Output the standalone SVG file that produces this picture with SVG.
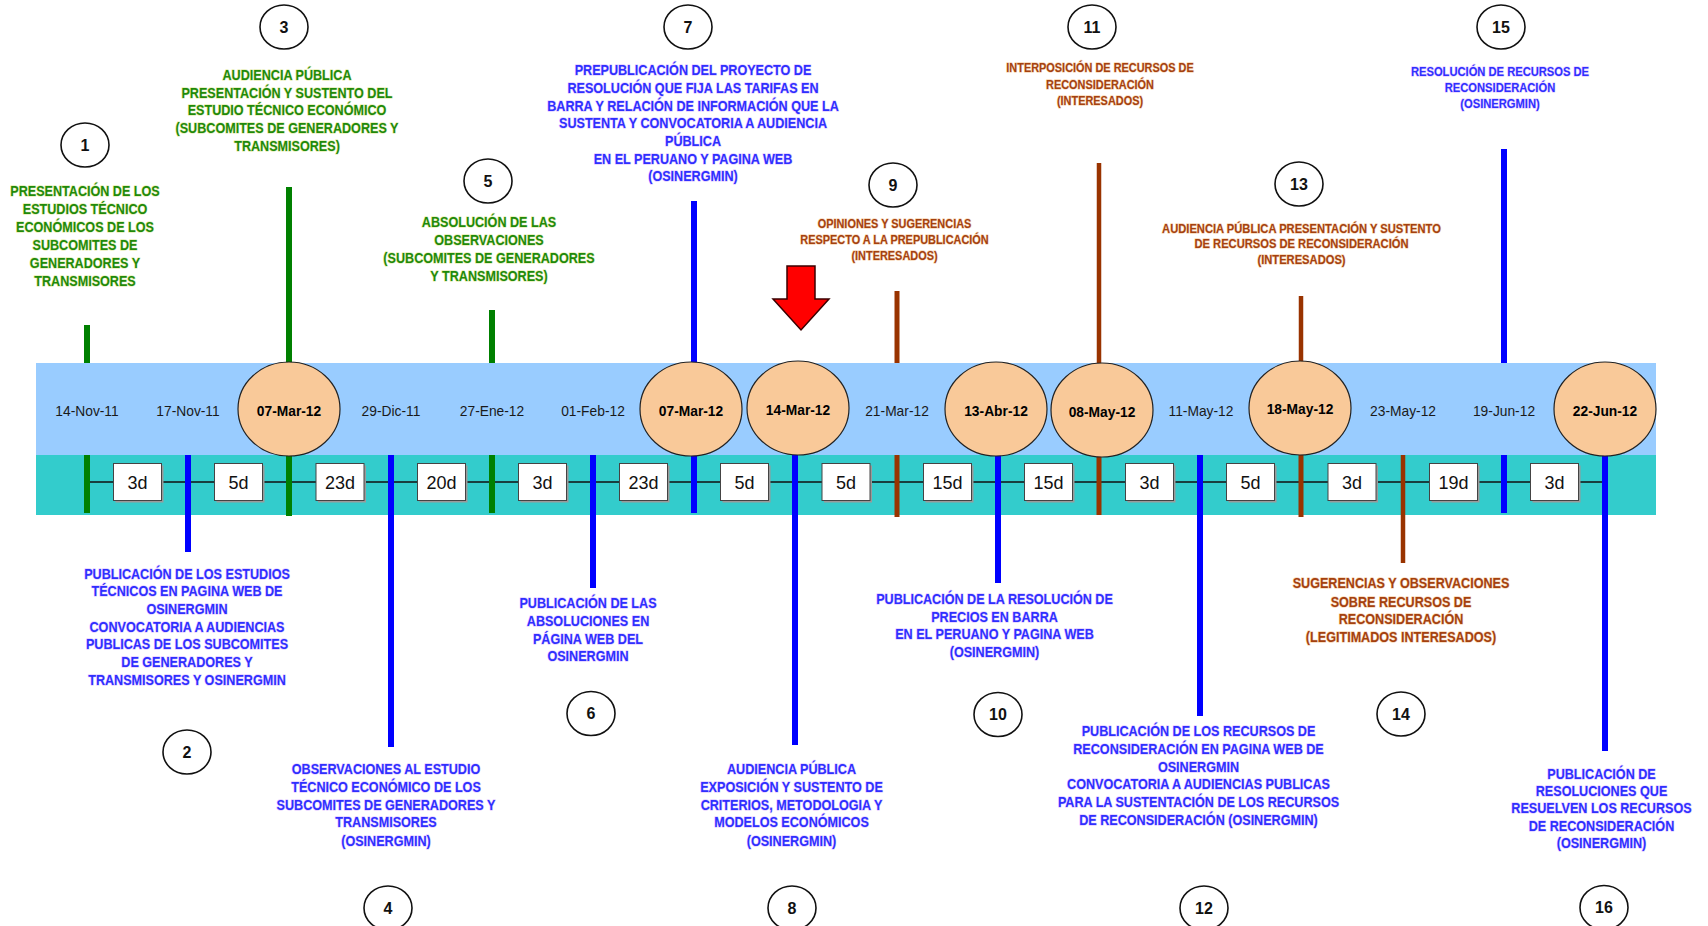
<svg xmlns="http://www.w3.org/2000/svg" width="1708" height="926" viewBox="0 0 1708 926">
<style>
.lt{font-family:"Liberation Sans",Arial,sans-serif;font-weight:bold;text-anchor:middle;font-size:15px;paint-order:stroke;stroke-width:1.4px;stroke-linejoin:round}
.sm{font-size:13px}
.g{fill:#1f8a0a;stroke:#d2e07a;stroke-opacity:.55}
.b{fill:#2f2fff;stroke:#c9a0ff;stroke-opacity:.5}
.r{fill:#a4410f;stroke:#f0b070;stroke-opacity:.5}
.num{fill:#fff;stroke:#111;stroke-width:1.6}
.numt{font-family:"Liberation Sans",Arial,sans-serif;font-weight:bold;font-size:16px;text-anchor:middle;fill:#111}
.date{font-family:"Liberation Sans",Arial,sans-serif;font-size:15px;text-anchor:middle;fill:#1a1a1a}
.dateb{font-weight:bold;fill:#000}
.ell{fill:#f9c999;stroke:#222;stroke-width:1.2}
.box{fill:#fff;stroke:#444;stroke-width:1}
.shd{fill:#9a9a9a}
.boxt{font-family:"Liberation Sans",Arial,sans-serif;font-size:18px;text-anchor:middle;fill:#111}
.lg{stroke:#008000;stroke-width:6}
.lb{stroke:#0000ff;stroke-width:6}
.lr{stroke:#993300;stroke-width:5}
.lr2{stroke:#993300;stroke-width:4.5}
</style>

<g id="band">
<rect x="36" y="363" width="1620" height="92" fill="#99ccff"/>
<rect x="36" y="455" width="1620" height="60" fill="#33cccc"/>
</g>

<g id="connectors">
<line x1="87" y1="482" x2="1605" y2="482" stroke="#111" stroke-width="1.6"/>
<!-- above band -->
<line class="lg" x1="87" y1="325" x2="87" y2="363"/>
<line class="lg" x1="289" y1="187" x2="289" y2="363"/>
<line class="lg" x1="492" y1="310" x2="492" y2="363"/>
<line class="lb" x1="694" y1="201" x2="694" y2="363"/>
<line class="lr" x1="897" y1="291" x2="897" y2="363"/>
<line class="lr2" x1="1099" y1="163" x2="1099" y2="363"/>
<line class="lr2" x1="1301" y1="296" x2="1301" y2="363"/>
<line class="lb" x1="1504" y1="149" x2="1504" y2="363"/>
<!-- below band -->
<line class="lg" x1="87" y1="455" x2="87" y2="513"/>
<line class="lb" x1="188" y1="455" x2="188" y2="552"/>
<line class="lg" x1="289" y1="455" x2="289" y2="516"/>
<line class="lb" x1="391" y1="455" x2="391" y2="747"/>
<line class="lg" x1="492" y1="455" x2="492" y2="513"/>
<line class="lb" x1="593" y1="455" x2="593" y2="588"/>
<line class="lb" x1="694" y1="455" x2="694" y2="513"/>
<line class="lb" x1="795" y1="455" x2="795" y2="745"/>
<line class="lr" x1="897" y1="455" x2="897" y2="517"/>
<line class="lb" x1="998" y1="455" x2="998" y2="583"/>
<line class="lr" x1="1099" y1="455" x2="1099" y2="515"/>
<line class="lb" x1="1200" y1="455" x2="1200" y2="716"/>
<line class="lr" x1="1301" y1="455" x2="1301" y2="517"/>
<line class="lr2" x1="1403" y1="455" x2="1403" y2="563"/>
<line class="lb" x1="1504" y1="455" x2="1504" y2="513"/>
<line class="lb" x1="1605" y1="455" x2="1605" y2="751"/>
</g>

<g id="durations">
<g><rect class="shd" x="115.5" y="465.5" width="48" height="37"/><rect class="box" x="113.5" y="463.5" width="48" height="37"/><text class="boxt" x="137.5" y="488.5">3d</text></g>
<g><rect class="shd" x="216.5" y="465.5" width="48" height="37"/><rect class="box" x="214.5" y="463.5" width="48" height="37"/><text class="boxt" x="238.5" y="488.5">5d</text></g>
<g><rect class="shd" x="318" y="465.5" width="48" height="37"/><rect class="box" x="316" y="463.5" width="48" height="37"/><text class="boxt" x="340" y="488.5">23d</text></g>
<g><rect class="shd" x="419.5" y="465.5" width="48" height="37"/><rect class="box" x="417.5" y="463.5" width="48" height="37"/><text class="boxt" x="441.5" y="488.5">20d</text></g>
<g><rect class="shd" x="520.5" y="465.5" width="48" height="37"/><rect class="box" x="518.5" y="463.5" width="48" height="37"/><text class="boxt" x="542.5" y="488.5">3d</text></g>
<g><rect class="shd" x="621.5" y="465.5" width="48" height="37"/><rect class="box" x="619.5" y="463.5" width="48" height="37"/><text class="boxt" x="643.5" y="488.5">23d</text></g>
<g><rect class="shd" x="722.5" y="465.5" width="48" height="37"/><rect class="box" x="720.5" y="463.5" width="48" height="37"/><text class="boxt" x="744.5" y="488.5">5d</text></g>
<g><rect class="shd" x="824" y="465.5" width="48" height="37"/><rect class="box" x="822" y="463.5" width="48" height="37"/><text class="boxt" x="846" y="488.5">5d</text></g>
<g><rect class="shd" x="925.5" y="465.5" width="48" height="37"/><rect class="box" x="923.5" y="463.5" width="48" height="37"/><text class="boxt" x="947.5" y="488.5">15d</text></g>
<g><rect class="shd" x="1026.5" y="465.5" width="48" height="37"/><rect class="box" x="1024.5" y="463.5" width="48" height="37"/><text class="boxt" x="1048.5" y="488.5">15d</text></g>
<g><rect class="shd" x="1127.5" y="465.5" width="48" height="37"/><rect class="box" x="1125.5" y="463.5" width="48" height="37"/><text class="boxt" x="1149.5" y="488.5">3d</text></g>
<g><rect class="shd" x="1228.5" y="465.5" width="48" height="37"/><rect class="box" x="1226.5" y="463.5" width="48" height="37"/><text class="boxt" x="1250.5" y="488.5">5d</text></g>
<g><rect class="shd" x="1330" y="465.5" width="48" height="37"/><rect class="box" x="1328" y="463.5" width="48" height="37"/><text class="boxt" x="1352" y="488.5">3d</text></g>
<g><rect class="shd" x="1431.5" y="465.5" width="48" height="37"/><rect class="box" x="1429.5" y="463.5" width="48" height="37"/><text class="boxt" x="1453.5" y="488.5">19d</text></g>
<g><rect class="shd" x="1532.5" y="465.5" width="48" height="37"/><rect class="box" x="1530.5" y="463.5" width="48" height="37"/><text class="boxt" x="1554.5" y="488.5">3d</text></g>
</g>

<g id="dates">
<g id="d1"><text class="date" transform="translate(87 415.5) scale(0.92 1)">14-Nov-11</text></g>
<g id="d2"><text class="date" transform="translate(188 415.5) scale(0.92 1)">17-Nov-11</text></g>
<g id="d3"><ellipse class="ell" cx="289" cy="409" rx="51" ry="47"/><text class="date dateb" transform="translate(289 416) scale(0.92 1)">07-Mar-12</text></g>
<g id="d4"><text class="date" transform="translate(391 415.5) scale(0.92 1)">29-Dic-11</text></g>
<g id="d5"><text class="date" transform="translate(492 415.5) scale(0.92 1)">27-Ene-12</text></g>
<g id="d6"><text class="date" transform="translate(593 415.5) scale(0.92 1)">01-Feb-12</text></g>
<g id="d7"><ellipse class="ell" cx="691" cy="409" rx="51" ry="47"/><text class="date dateb" transform="translate(691 416) scale(0.92 1)">07-Mar-12</text></g>
<g id="d8"><ellipse class="ell" cx="798" cy="408" rx="51" ry="47"/><text class="date dateb" transform="translate(798 414.5) scale(0.92 1)">14-Mar-12</text></g>
<g id="d9"><text class="date" transform="translate(897 415.5) scale(0.92 1)">21-Mar-12</text></g>
<g id="d10"><ellipse class="ell" cx="996" cy="409" rx="51" ry="47"/><text class="date dateb" transform="translate(996 415.5) scale(0.92 1)">13-Abr-12</text></g>
<g id="d11"><ellipse class="ell" cx="1102" cy="410" rx="51" ry="47"/><text class="date dateb" transform="translate(1102 417) scale(0.92 1)">08-May-12</text></g>
<g id="d12"><text class="date" transform="translate(1201 415.5) scale(0.92 1)">11-May-12</text></g>
<g id="d13"><ellipse class="ell" cx="1300" cy="408" rx="51" ry="47"/><text class="date dateb" transform="translate(1300 414) scale(0.92 1)">18-May-12</text></g>
<g id="d14"><text class="date" transform="translate(1403 415.5) scale(0.92 1)">23-May-12</text></g>
<g id="d15"><text class="date" transform="translate(1504 415.5) scale(0.92 1)">19-Jun-12</text></g>
<g id="d16"><ellipse class="ell" cx="1605" cy="409" rx="51" ry="47"/><text class="date dateb" transform="translate(1605 415.5) scale(0.92 1)">22-Jun-12</text></g>
</g>

<g id="n1">
<ellipse class="num" cx="85" cy="145" rx="24" ry="22"/><text class="numt" x="85" y="150.5">1</text>
<g transform="translate(85 0) scale(0.84 1)"><text class="lt g">
<tspan x="0" y="196.5">PRESENTACIÓN DE LOS</tspan><tspan x="0" y="214.5">ESTUDIOS TÉCNICO</tspan><tspan x="0" y="232.5">ECONÓMICOS DE LOS</tspan><tspan x="0" y="250.5">SUBCOMITES DE</tspan><tspan x="0" y="268.5">GENERADORES Y</tspan><tspan x="0" y="286">TRANSMISORES</tspan></text></g>
</g>

<g id="n2">
<ellipse class="num" cx="187" cy="752" rx="24" ry="22"/><text class="numt" x="187" y="757.5">2</text>
<g transform="translate(187 0) scale(0.84 1)"><text class="lt b">
<tspan x="0" y="579">PUBLICACIÓN DE LOS ESTUDIOS</tspan><tspan x="0" y="596.5">TÉCNICOS EN PAGINA WEB DE</tspan><tspan x="0" y="614.5">OSINERGMIN</tspan><tspan x="0" y="632">CONVOCATORIA A AUDIENCIAS</tspan><tspan x="0" y="649.5">PUBLICAS DE LOS SUBCOMITES</tspan><tspan x="0" y="667.5">DE GENERADORES Y</tspan><tspan x="0" y="685">TRANSMISORES Y OSINERGMIN</tspan></text></g>
</g>

<g id="n3">
<ellipse class="num" cx="284" cy="27" rx="24" ry="22"/><text class="numt" x="284" y="32.5">3</text>
<g transform="translate(287 0) scale(0.84 1)"><text class="lt g">
<tspan x="0" y="80">AUDIENCIA PÚBLICA</tspan><tspan x="0" y="98">PRESENTACIÓN Y SUSTENTO DEL</tspan><tspan x="0" y="115.5">ESTUDIO TÉCNICO ECONÓMICO</tspan><tspan x="0" y="133">(SUBCOMITES DE GENERADORES Y</tspan><tspan x="0" y="151">TRANSMISORES)</tspan></text></g>
</g>

<g id="n4">
<ellipse class="num" cx="388" cy="908" rx="24" ry="22"/><text class="numt" x="388" y="913.5">4</text>
<g transform="translate(386 0) scale(0.84 1)"><text class="lt b">
<tspan x="0" y="774">OBSERVACIONES AL ESTUDIO</tspan><tspan x="0" y="792.5">TÉCNICO ECONÓMICO DE  LOS</tspan><tspan x="0" y="810">SUBCOMITES DE GENERADORES Y</tspan><tspan x="0" y="827.5">TRANSMISORES</tspan><tspan x="0" y="846">(OSINERGMIN)</tspan></text></g>
</g>

<g id="n5">
<ellipse class="num" cx="488" cy="181" rx="24" ry="22"/><text class="numt" x="488" y="186.5">5</text>
<g transform="translate(489 0) scale(0.84 1)"><text class="lt g">
<tspan x="0" y="227">ABSOLUCIÓN DE LAS</tspan><tspan x="0" y="245">OBSERVACIONES</tspan><tspan x="0" y="263">(SUBCOMITES DE GENERADORES</tspan><tspan x="0" y="281">Y TRANSMISORES)</tspan></text></g>
</g>

<g id="n6">
<ellipse class="num" cx="591" cy="713.5" rx="24" ry="22"/><text class="numt" x="591" y="719">6</text>
<g transform="translate(588 0) scale(0.84 1)"><text class="lt b">
<tspan x="0" y="608">PUBLICACIÓN DE LAS</tspan><tspan x="0" y="626.5">ABSOLUCIONES EN</tspan><tspan x="0" y="644.5">PÁGINA WEB DEL</tspan><tspan x="0" y="661.5">OSINERGMIN</tspan></text></g>
</g>

<g id="n7">
<ellipse class="num" cx="688" cy="27" rx="24" ry="22"/><text class="numt" x="688" y="32.5">7</text>
<g transform="translate(693 0) scale(0.84 1)"><text class="lt b">
<tspan x="0" y="75.5">PREPUBLICACIÓN DEL PROYECTO DE</tspan><tspan x="0" y="93.5">RESOLUCIÓN QUE FIJA LAS TARIFAS EN</tspan><tspan x="0" y="111">BARRA Y RELACIÓN DE INFORMACIÓN QUE LA</tspan><tspan x="0" y="128.5">SUSTENTA Y CONVOCATORIA A AUDIENCIA</tspan><tspan x="0" y="146.5">PÚBLICA</tspan><tspan x="0" y="164">EN EL PERUANO Y PAGINA WEB</tspan><tspan x="0" y="181.5">(OSINERGMIN)</tspan></text></g>
</g>

<g id="n8">
<ellipse class="num" cx="792" cy="908" rx="24" ry="22"/><text class="numt" x="792" y="913.5">8</text>
<g transform="translate(791.5 0) scale(0.84 1)"><text class="lt b">
<tspan x="0" y="774">AUDIENCIA PÚBLICA</tspan><tspan x="0" y="792.5">EXPOSICIÓN Y SUSTENTO DE</tspan><tspan x="0" y="810">CRITERIOS, METODOLOGIA Y</tspan><tspan x="0" y="827.5">MODELOS ECONÓMICOS</tspan><tspan x="0" y="846">(OSINERGMIN)</tspan></text></g>
</g>

<g id="n9">
<ellipse class="num" cx="893" cy="185" rx="24" ry="22"/><text class="numt" x="893" y="190.5">9</text>
<g transform="translate(894.5 0) scale(0.84 1)"><text class="lt r sm">
<tspan x="0" y="228">OPINIONES Y SUGERENCIAS</tspan><tspan x="0" y="244">RESPECTO A LA PREPUBLICACIÓN</tspan><tspan x="0" y="260.5">(INTERESADOS)</tspan></text></g>
</g>

<g id="n10">
<ellipse class="num" cx="998" cy="714.5" rx="24" ry="22"/><text class="numt" x="998" y="720">10</text>
<g transform="translate(994.5 0) scale(0.84 1)"><text class="lt b">
<tspan x="0" y="604">PUBLICACIÓN DE LA RESOLUCIÓN DE</tspan><tspan x="0" y="622.5">PRECIOS EN BARRA</tspan><tspan x="0" y="639.5">EN EL PERUANO Y PAGINA WEB</tspan><tspan x="0" y="657">(OSINERGMIN)</tspan></text></g>
</g>

<g id="n11">
<ellipse class="num" cx="1092" cy="27" rx="24" ry="22"/><text class="numt" x="1092" y="32.5">11</text>
<g transform="translate(1100 0) scale(0.84 1)"><text class="lt r sm">
<tspan x="0" y="72">INTERPOSICIÓN DE RECURSOS DE</tspan><tspan x="0" y="89">RECONSIDERACIÓN</tspan><tspan x="0" y="105">(INTERESADOS)</tspan></text></g>
</g>

<g id="n12">
<ellipse class="num" cx="1204" cy="908" rx="24" ry="22"/><text class="numt" x="1204" y="913.5">12</text>
<g transform="translate(1198.5 0) scale(0.84 1)"><text class="lt b">
<tspan x="0" y="736">PUBLICACIÓN DE LOS RECURSOS DE</tspan><tspan x="0" y="754.5">RECONSIDERACIÓN EN PAGINA WEB DE</tspan><tspan x="0" y="772">OSINERGMIN</tspan><tspan x="0" y="789.5">CONVOCATORIA A AUDIENCIAS PUBLICAS</tspan><tspan x="0" y="807">PARA LA SUSTENTACIÓN DE LOS RECURSOS</tspan><tspan x="0" y="825">DE RECONSIDERACIÓN (OSINERGMIN)</tspan></text></g>
</g>

<g id="n13">
<ellipse class="num" cx="1299" cy="184" rx="24" ry="22"/><text class="numt" x="1299" y="189.5">13</text>
<g transform="translate(1301.5 0) scale(0.86 1)"><text class="lt r sm">
<tspan x="0" y="233">AUDIENCIA PÚBLICA PRESENTACIÓN Y SUSTENTO</tspan><tspan x="0" y="248.5">DE RECURSOS DE RECONSIDERACIÓN</tspan><tspan x="0" y="264.5">(INTERESADOS)</tspan></text></g>
</g>

<g id="n14">
<ellipse class="num" cx="1401" cy="714" rx="24" ry="22"/><text class="numt" x="1401" y="719.5">14</text>
<g transform="translate(1401 0) scale(0.84 1)"><text class="lt r">
<tspan x="0" y="588.5">SUGERENCIAS Y OBSERVACIONES</tspan><tspan x="0" y="607">SOBRE RECURSOS DE</tspan><tspan x="0" y="624.5">RECONSIDERACIÓN</tspan><tspan x="0" y="642">(LEGITIMADOS INTERESADOS)</tspan></text></g>
</g>

<g id="n15">
<ellipse class="num" cx="1501" cy="27" rx="24" ry="22"/><text class="numt" x="1501" y="32.5">15</text>
<g transform="translate(1500 0) scale(0.86 1)"><text class="lt b sm">
<tspan x="0" y="76.5">RESOLUCIÓN DE RECURSOS DE</tspan><tspan x="0" y="92.5">RECONSIDERACIÓN</tspan><tspan x="0" y="108.5">(OSINERGMIN)</tspan></text></g>
</g>

<g id="n16">
<ellipse class="num" cx="1604" cy="907.5" rx="24" ry="22"/><text class="numt" x="1604" y="913">16</text>
<g transform="translate(1601.5 0) scale(0.84 1)"><text class="lt b">
<tspan x="0" y="779">PUBLICACIÓN DE</tspan><tspan x="0" y="796.5">RESOLUCIONES QUE</tspan><tspan x="0" y="813.5">RESUELVEN LOS RECURSOS</tspan><tspan x="0" y="831.5">DE RECONSIDERACIÓN</tspan><tspan x="0" y="848.5">(OSINERGMIN)</tspan></text></g>
</g>

<g id="arrow">
<polygon points="787,266 815,266 815,299 829,299 801,330 773,299 787,299" fill="#ff0000" stroke="#3a0000" stroke-width="1.5" stroke-linejoin="miter"/>
</g>
</svg>
